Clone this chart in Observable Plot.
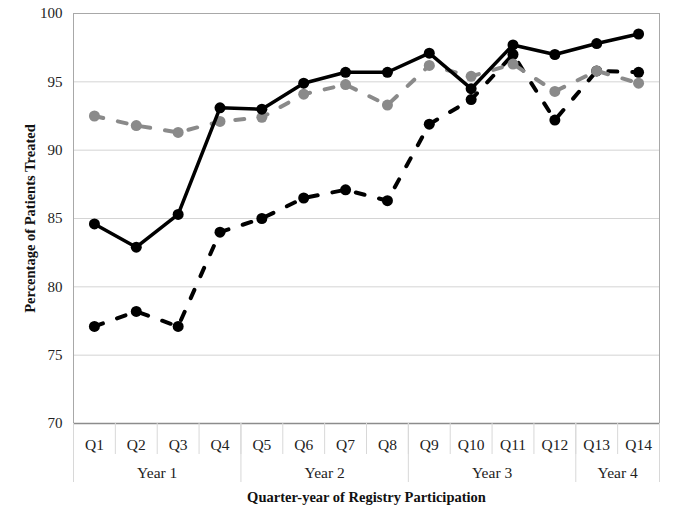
<!DOCTYPE html>
<html>
<head>
<meta charset="utf-8">
<script src="https://cdn.jsdelivr.net/npm/d3@7"></script>
<script src="https://cdn.jsdelivr.net/npm/@observablehq/plot@0.6"></script>
<style>
  html, body { margin: 0; padding: 0; background: #fff; }
</style>
</head>
<body>
<div id="chart"></div>
<script>
const quarters = ["Q1","Q2","Q3","Q4","Q5","Q6","Q7","Q8","Q9","Q10","Q11","Q12","Q13","Q14"];
const years = ["Year 1","Year 2","Year 3","Year 4"];
const yearQuarterCounts = [4, 4, 4, 2];
const yTicks = [70, 75, 80, 85, 90, 95, 100];

const solidSeries = [84.6, 82.9, 85.3, 93.1, 93.0, 94.9, 95.7, 95.7, 97.1, 94.5, 97.7, 97.0, 97.8, 98.5];
const grayDashed  = [92.5, 91.8, 91.3, 92.1, 92.4, 94.1, 94.8, 93.3, 96.2, 95.4, 96.3, 94.3, 95.8, 94.9];
const blackDashed = [77.1, 78.2, 77.1, 84.0, 85.0, 86.5, 87.1, 86.3, 91.9, 93.7, 97.0, 92.2, 95.8, 95.7];

const toRows = vals => vals.map((v, i) => ({q: i + 1, v}));

// year spans in quarter index coordinates
let start = 0.5;
const yearSpans = years.map((name, i) => {
  const s = start, e = start + yearQuarterCounts[i];
  start = e;
  return {name, s, e, mid: (s + e) / 2};
});
const quarterSeps = d3.range(0, quarters.length + 1).map(i => i + 0.5);
const yearSeps = [0.5, ...yearSpans.map(d => d.e)];

const gray = "#8a8a8a";
const font = "'Liberation Serif', 'Times New Roman', serif";

const plot = Plot.plot({
  width: 685,
  height: 522,
  marginLeft: 73,
  marginRight: 26,
  marginTop: 13,
  marginBottom: 99,
  style: {fontFamily: font, fontSize: "15px", color: "#222", background: "#fff"},
  x: {domain: [0.5, quarters.length + 0.5], axis: null},
  y: {domain: [70, 100], axis: null},
  marks: [
    Plot.gridY(yTicks.filter(t => t > 70 && t < 100), {stroke: "#d4d4d4", strokeOpacity: 1}),
    Plot.frame({stroke: "#a8a8a8"}),
    Plot.ruleY([70], {stroke: "#8c8c8c", strokeWidth: 1.3}),
    Plot.axisY(yTicks, {tickSize: 0, tickPadding: 11, label: null, fontSize: 15}),
    // quarter separators and labels
    Plot.axisX(quarterSeps, {tickSize: 31, fill: "none", stroke: "#d8d8d8", label: null}),
    Plot.axisX(yearSeps, {tickSize: 59, fill: "none", stroke: "#d8d8d8", label: null}),
    Plot.axisX(d3.range(1, quarters.length + 1), {tickSize: 0, tickPadding: 15, tickFormat: i => quarters[i - 1], label: null, fontSize: 15.5}),
    Plot.text(yearSpans, {x: "mid", frameAnchor: "bottom", dy: 50, text: "name", fontSize: 15.5, lineAnchor: "middle", fill: "#222"}),
    Plot.text(["Quarter-year of Registry Participation"], {frameAnchor: "bottom", dy: 74, lineAnchor: "middle", fontWeight: "bold", fontSize: 14.5, fill: "#111"}),
    Plot.text(["Percentage of Patients Treated"], {frameAnchor: "left", dx: -43, rotate: -90, textAnchor: "middle", lineAnchor: "middle", fontWeight: "bold", fontSize: 14.5, fill: "#111"}),
    // series: black dashed
    Plot.line(toRows(blackDashed), {x: "q", y: "v", stroke: "#000", strokeWidth: 4, strokeDasharray: "9,15"}),
    Plot.dot(toRows(blackDashed), {x: "q", y: "v", r: 5.5, fill: "#000"}),
    // gray dashed
    Plot.line(toRows(grayDashed), {x: "q", y: "v", stroke: gray, strokeWidth: 4, strokeDasharray: "9,15"}),
    Plot.dot(toRows(grayDashed), {x: "q", y: "v", r: 5.5, fill: gray}),
    // solid black
    Plot.line(toRows(solidSeries), {x: "q", y: "v", stroke: "#000", strokeWidth: 3.5}),
    Plot.dot(toRows(solidSeries), {x: "q", y: "v", r: 5.5, fill: "#000"})
  ]
});
document.getElementById("chart").appendChild(plot);
</script>
</body>
</html>
